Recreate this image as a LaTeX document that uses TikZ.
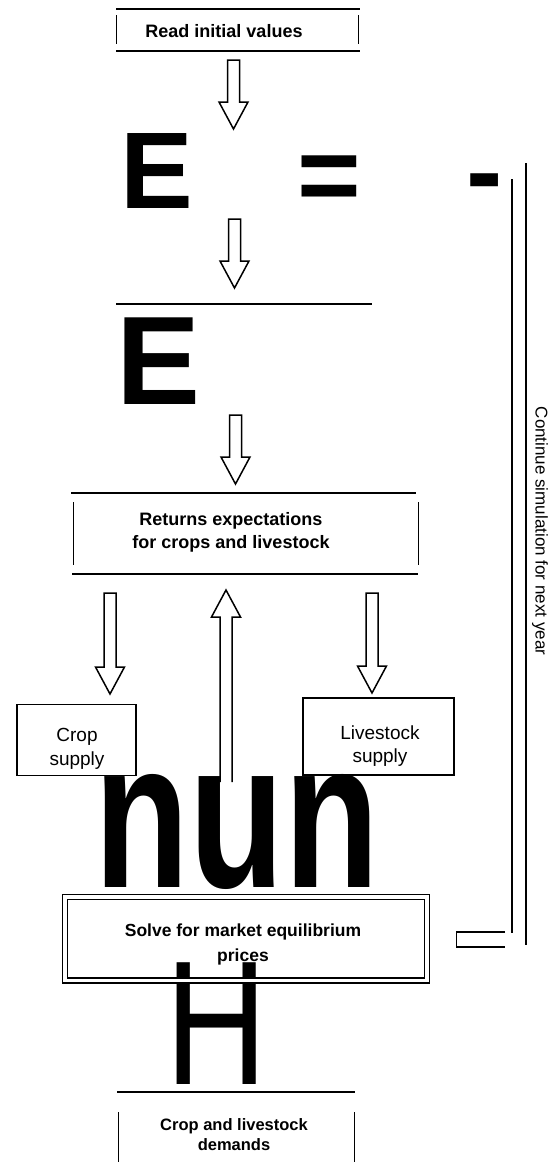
\documentclass[tikz,border=0pt]{standalone}
\usepackage{fontspec}
\setmainfont{Liberation Sans}
\usetikzlibrary{calc}

\newcommand{\blockarrow}[3][-- cycle]{%
  \coordinate (hb) at ($(#3)!27pt!(#2)$);
  \draw[line width=1.5pt] ($(#2)!6pt!90:(#3)$) -- ($(hb)!6pt!90:(#3)$) -- ($(hb)!14.5pt!90:(#3)$) -- (#3)
    -- ($(hb)!14.5pt!-90:(#3)$) -- ($(hb)!6pt!-90:(#3)$) -- ($(#2)!6pt!-90:(#3)$) #1;
}

\begin{document}
\begin{tikzpicture}[x=1pt, y=-1pt,
    lbl/.style={font=\fontsize{18}{23}\selectfont\bfseries, align=center, inner sep=0pt},
    supply/.style={draw, line width=1.5pt, inner sep=0pt},
    supplytext/.style={font=\fontsize{19}{23.5}\selectfont, align=center, inner sep=0pt},
    big/.style={inner sep=0pt, anchor=base},
    hrule/.style={line width=2pt},
    vbar/.style={line width=1pt}]
    \useasboundingbox (0,0) rectangle (549,1167);

    \draw[hrule] (116,9) -- (360,9);
    \draw[hrule] (116,51) -- (360,51);
    \draw[vbar] (116,15) -- (116,44);
    \draw[vbar] (358,15) -- (358,44);
    \node[lbl, anchor=base] (read) at (224,37) {Read initial values};

    \node[big, font=\fontsize{109}{109}\selectfont\bfseries] (e1) at (156.5,208) {E};
    \node[big, font=\fontsize{109}{109}\selectfont\bfseries] (eq) at (329.5,212) {=};
    \node[big, font=\fontsize{109}{109}\selectfont\bfseries] (dash) at (484.5,208) {-};

    \draw[hrule] (116,304) -- (372,304);
    \node[big, font=\fontsize{126}{126}\selectfont\bfseries] (e2) at (158.5,404) {E};

    \draw[hrule] (71,493) -- (416,493);
    \draw[hrule] (72,574) -- (418,574);
    \draw[vbar] (73,502) -- (73,565);
    \draw[vbar] (418,502) -- (418,565);
    \node[lbl] (returns) at (231,532) {Returns expectations\\for crops and livestock};

    \node[supply, minimum width=119, minimum height=71] (crop) at (76.5,740) {};
    \node[supplytext] (croptext) at (77,749) {Crop\\supply};
    \node[supply, minimum width=151, minimum height=77] (live) at (378.5,736.5) {};
    \node[supplytext] (livetext) at (380,746) {Livestock\\supply};

    \node[big, font=\fontsize{210}{210}\selectfont\bfseries] (nun) at (236.5,887) {\scalebox{0.74}[1]{nun}};
    \node[big, font=\fontsize{177}{177}\selectfont] (h) at (216.5,1084) {\scalebox{0.8}[1]{H}};

    \node[draw, double, line width=1.5pt, double distance=3.5pt, minimum width=362, minimum height=83.5] (solve) at (246,938.75) {};
    \node[lbl, font=\fontsize{17.5}{25}\selectfont\bfseries] (solvetext) at (243,944.5) {Solve for market equilibrium\\prices};

    \draw[hrule] (117,1092) -- (355,1092);
    \draw[vbar] (118,1112) -- (118,1162);
    \draw[vbar] (354,1112) -- (354,1162);
    \node[lbl, font=\fontsize{16.5}{20}\selectfont\bfseries] (demand) at (234,1135) {Crop and livestock\\demands};

    \coordinate (a1t) at (233.5,60);  \coordinate (a1h) at (233.5,129);
    \coordinate (a2t) at (234.5,219); \coordinate (a2h) at (234.5,288);
    \coordinate (a3t) at (235.5,415); \coordinate (a3h) at (235.5,484);
    \coordinate (a4t) at (110,593);   \coordinate (a4h) at (110,694);
    \coordinate (a5t) at (226,782);   \coordinate (a5h) at (226,590);
    \coordinate (a6t) at (372,593);   \coordinate (a6h) at (372,693);
    \blockarrow{a1t}{a1h}
    \blockarrow{a2t}{a2h}
    \blockarrow{a3t}{a3h}
    \blockarrow{a4t}{a4h}
    \blockarrow[]{a5t}{a5h}
    \blockarrow{a6t}{a6h}

    \draw[hrule] (512,179) -- (512,933);
    \draw[hrule] (526,163) -- (526,945);
    \draw[hrule] (505,932) -- (456,932);
    \draw[hrule] (456,947) -- (505,947);
    \draw[vbar] (456,932) -- (456,947);
    \node[rotate=-90, font=\fontsize{17}{20}\selectfont] (loop) at (540,531) {Continue simulation for next year};
\end{tikzpicture}
\end{document}
